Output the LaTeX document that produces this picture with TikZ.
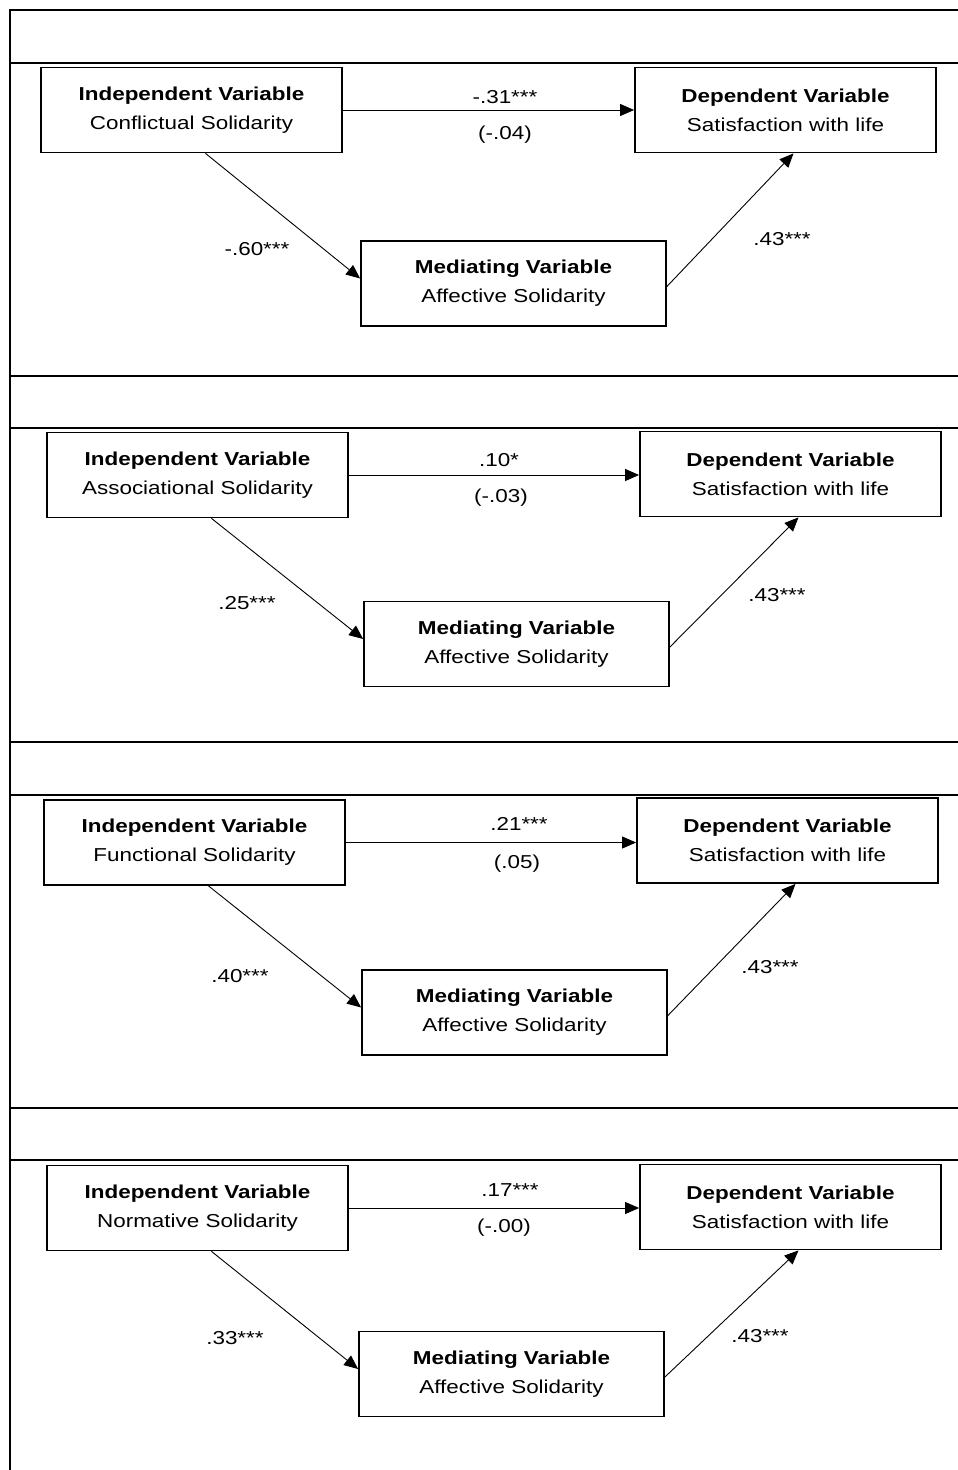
\documentclass[tikz,border=0pt]{standalone}
\usepackage{fontspec}
\setmainfont{Liberation Sans}[FakeStretch=1.2]
\usetikzlibrary{arrows.meta}
\tikzset{
	varbox/.style={draw, line width=1.8pt, minimum width=301pt, minimum height=85pt, inner sep=0pt, align=center, font=\fontsize{18.7}{29}\selectfont},
	medbox/.style={varbox, minimum width=305pt},
	coef/.style={inner sep=0pt, font=\fontsize{18.7}{22}\selectfont},
	arrline/.style={line width=0.9pt, -{Triangle[length=14pt, width=12pt]}},
	panelline/.style={line width=2pt}
}

\begin{document}
\begin{tikzpicture}[x=1pt, y=-1pt]
			%%%%% START %%%%%
			\useasboundingbox (0,0) rectangle (958,1470);
			
			\draw[panelline] (10,1470) -- (10,10) -- (958,10);
			\draw[panelline] (10,63) -- (958,63);
			\draw[panelline] (10,376) -- (958,376);
			\draw[panelline] (10,428) -- (958,428);
			\draw[panelline] (10,742) -- (958,742);
			\draw[panelline] (10,795) -- (958,795);
			\draw[panelline] (10,1108) -- (958,1108);
			\draw[panelline] (10,1160) -- (958,1160);
			
			%% conflictual
			\node[varbox] (iv1) at (191.5,110) {\textbf{Independent Variable}\\Conflictual Solidarity};
			\node[varbox] (dv1) at (785.5,110) {\textbf{Dependent Variable}\\Satisfaction with life};
			\node[medbox] (mv1) at (513.5,283.5) {\textbf{Mediating Variable}\\Affective Solidarity};
			\draw[arrline] (iv1) -- (iv1 -| dv1.west);
			\draw[arrline] ([xshift=14pt]iv1.south) -- ([yshift=5pt]mv1.west);
			\draw[arrline] ([yshift=-3pt]mv1.east) -- ([xshift=8pt]dv1.south);
			\node[coef] (c1) at (505,97) {-.31***};
			\node[coef] (cp1) at (505,135) {(-.04)};
			\node[coef] (a1) at (257,249) {-.60***};
			\node[coef] (b1) at (782,239) {.43***};
			
			%% associational
			\node[varbox] (iv2) at (197.5,475) {\textbf{Independent Variable}\\Associational Solidarity};
			\node[varbox] (dv2) at (790.5,474) {\textbf{Dependent Variable}\\Satisfaction with life};
			\node[medbox] (mv2) at (516.5,644) {\textbf{Mediating Variable}\\Affective Solidarity};
			\draw[arrline] (iv2) -- (iv2 -| dv2.west);
			\draw[arrline] ([xshift=14pt]iv2.south) -- ([yshift=5pt]mv2.west);
			\draw[arrline] ([yshift=-3pt]mv2.east) -- ([xshift=8pt]dv2.south);
			\node[coef] (c2) at (499,460) {.10*};
			\node[coef] (cp2) at (501,498) {(-.03)};
			\node[coef] (a2) at (247,603) {.25***};
			\node[coef] (b2) at (777,595) {.43***};
			
			%% functional
			\node[varbox] (iv3) at (194.5,842.5) {\textbf{Independent Variable}\\Functional Solidarity};
			\node[varbox] (dv3) at (787.5,840.5) {\textbf{Dependent Variable}\\Satisfaction with life};
			\node[medbox] (mv3) at (514.5,1012.5) {\textbf{Mediating Variable}\\Affective Solidarity};
			\draw[arrline] (iv3) -- (iv3 -| dv3.west);
			\draw[arrline] ([xshift=14pt]iv3.south) -- ([yshift=5pt]mv3.west);
			\draw[arrline] ([yshift=-3pt]mv3.east) -- ([xshift=8pt]dv3.south);
			\node[coef] (c3) at (519,824) {.21***};
			\node[coef] (cp3) at (517,864) {(.05)};
			\node[coef] (a3) at (240,976) {.40***};
			\node[coef] (b3) at (770,967) {.43***};
			
			%% normative
			\node[varbox] (iv4) at (197.5,1208) {\textbf{Independent Variable}\\Normative Solidarity};
			\node[varbox] (dv4) at (790.5,1207) {\textbf{Dependent Variable}\\Satisfaction with life};
			\node[medbox] (mv4) at (511.5,1374) {\textbf{Mediating Variable}\\Affective Solidarity};
			\draw[arrline] (iv4) -- (iv4 -| dv4.west);
			\draw[arrline] ([xshift=14pt]iv4.south) -- ([yshift=5pt]mv4.west);
			\draw[arrline] ([yshift=-3pt]mv4.east) -- ([xshift=8pt]dv4.south);
			\node[coef] (c4) at (510,1190) {.17***};
			\node[coef] (cp4) at (504,1228) {(-.00)};
			\node[coef] (a4) at (235,1338) {.33***};
			\node[coef] (b4) at (760,1336) {.43***};
			
			%%%%% END %%%%%
\end{tikzpicture}
\end{document}
